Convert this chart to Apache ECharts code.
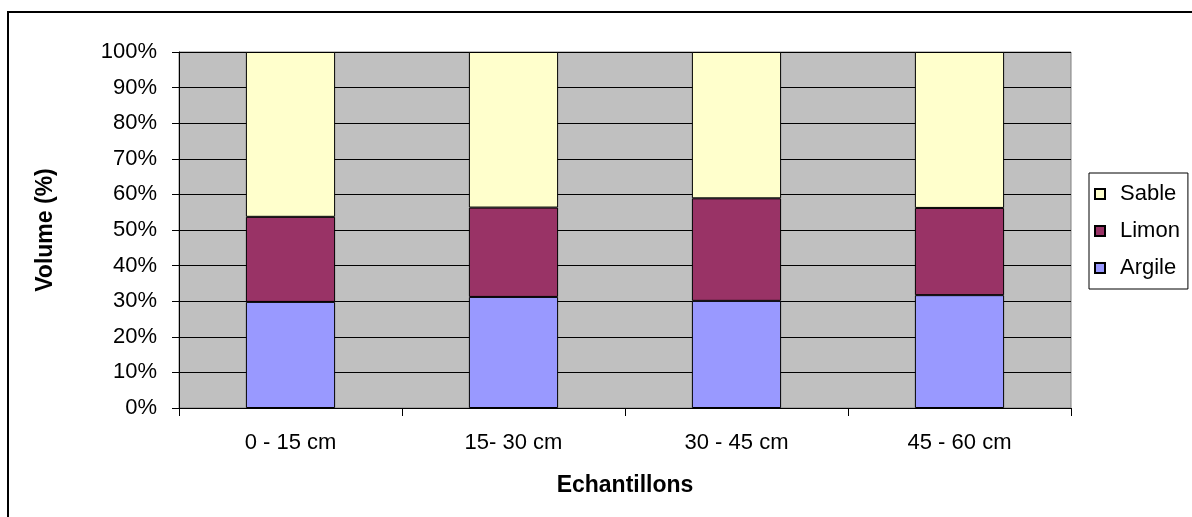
<!DOCTYPE html>
<html>
<head>
<meta charset="utf-8">
<script src="https://cdn.jsdelivr.net/npm/echarts@6/dist/echarts.min.js"></script>
<style>
html,body{margin:0;padding:0;background:#fff;}
#c{width:1192px;height:517px;}
</style>
</head>
<body>
<div id="c"></div>
<script>
const categories = ['0 - 15 cm', '15- 30 cm', '30 - 45 cm', '45 - 60 cm'];
const argile = [29.8, 31.2, 30.1, 31.7];
const limon = [23.9, 25.1, 28.8, 24.5];
const sable = [46.3, 43.7, 41.1, 43.8];
const yTicks = [0, 10, 20, 30, 40, 50, 60, 70, 80, 90, 100];

const FONT = 'Liberation Sans, Arial, sans-serif';
const chart = echarts.init(document.getElementById('c'));
const barStyle = (c) => ({ color: c, borderColor: '#000', borderWidth: 1 });

chart.setOption({
  animation: false,
  backgroundColor: '#fff',
  textStyle: { fontFamily: FONT, color: '#000' },
  graphic: [{
    type: 'rect', silent: true,
    shape: { x: 8, y: 12, width: 1300, height: 700 },
    style: { fill: 'none', stroke: '#000', lineWidth: 2 }
  }],
  grid: {
    left: 179, top: 52, width: 892, height: 356,
    show: true, backgroundColor: '#C0C0C0', borderColor: '#808080', borderWidth: 1
  },
  legend: {
    orient: 'vertical', left: 1089, top: 173,
    data: ['Sable', 'Limon', 'Argile'],
    itemWidth: 10, itemHeight: 10, itemGap: 15,
    padding: [10, 8, 10, 5],
    borderColor: '#000', borderWidth: 1,
    icon: 'rect',
    textStyle: { fontSize: 22, fontFamily: FONT, color: '#000', padding: [0, 0, 0, 10] }
  },
  xAxis: {
    type: 'category', data: categories,
    axisLine: { lineStyle: { color: '#000', width: 1 } },
    axisTick: { show: true, length: 8, lineStyle: { color: '#000' } },
    axisLabel: { fontSize: 22, color: '#000', margin: 24, fontFamily: FONT },
    name: 'Echantillons', nameLocation: 'middle', nameGap: 66,
    nameTextStyle: { fontSize: 23, fontWeight: 'bold', color: '#000', fontFamily: FONT }
  },
  yAxis: {
    type: 'value', min: yTicks[0], max: yTicks[yTicks.length - 1], interval: 10,
    axisLine: { show: true, lineStyle: { color: '#000', width: 1 } },
    axisTick: { show: true, length: 7, lineStyle: { color: '#000' } },
    axisLabel: { fontSize: 22, color: '#000', margin: 22, fontFamily: FONT, formatter: '{value}%' },
    splitLine: { show: true, lineStyle: { color: '#000', width: 1 } },
    name: 'Volume (%)', nameLocation: 'middle', nameGap: 122, nameRotate: 90,
    nameTextStyle: { fontSize: 23, fontWeight: 'bold', color: '#000', fontFamily: FONT }
  },
  series: [
    { name: 'Argile', type: 'bar', stack: 'total', data: argile, barCategoryGap: '60%', itemStyle: barStyle('#9999FF') },
    { name: 'Limon', type: 'bar', stack: 'total', data: limon, barCategoryGap: '60%', itemStyle: barStyle('#993366') },
    { name: 'Sable', type: 'bar', stack: 'total', data: sable, barCategoryGap: '60%', itemStyle: barStyle('#FFFFCC') }
  ]
});
</script>
</body>
</html>
